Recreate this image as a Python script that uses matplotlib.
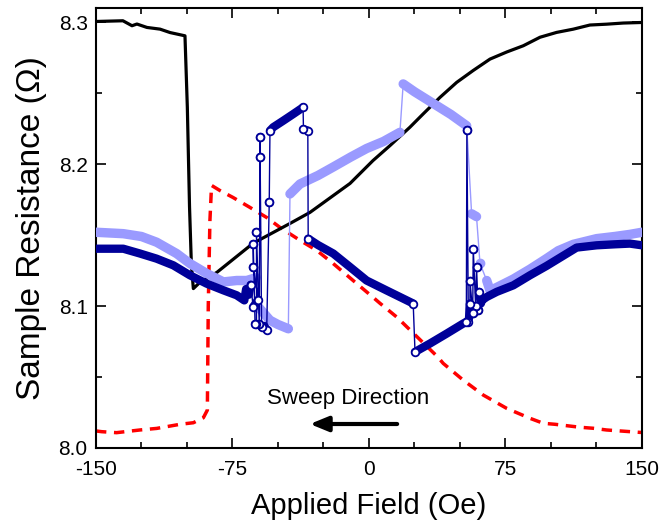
import matplotlib
matplotlib.use("Agg")
import matplotlib.pyplot as plt
import numpy as np
from matplotlib.ticker import MultipleLocator

plt.rcParams['font.family'] = ['Liberation Sans', 'DejaVu Sans']

# reference sweep (black solid)
black_x = [-150, -135.2, -130.2, -127.5, -122, -114.8, -109.3, -101.1, -99.8, -98.6, -97.6, -96.5,
           -92.9, -83.5, -63.7, -43.4, -32.4, -10.4, 2.2, 11.5, 22.5, 29.8, 39.0, 48.2, 57.3,
           66.5, 75.7, 84.8, 94.0, 103.1, 112.3, 121.4, 130.6, 139.7, 150]
black_y = [8.3005, 8.301, 8.2975, 8.2987, 8.2963, 8.2951, 8.2927, 8.2904, 8.24, 8.17, 8.13, 8.1123,
           8.1167, 8.1238, 8.1442, 8.1582, 8.166, 8.1864, 8.2025, 8.213, 8.226, 8.2354, 8.247,
           8.2576, 8.266, 8.274, 8.279, 8.2834, 8.2894, 8.2928, 8.2951, 8.298, 8.2986, 8.2994, 8.2998]

# red dashed
red_x = [-150, -146.9, -138.7, -125.8, -116.6, -103.8, -96.5, -91.0, -88.8, -88.3, -87.4, -86.5,
         -81.9, -74.7, -65.4, -56.2, -48.9, -37.9, -28.7, -19.8, -8.8, 2.2, 6.0, 15.4, 37.9,
         40.8, 51.8, 62.8, 75.7, 88.5, 95.8, 102.2, 116.0, 123.2, 130.5, 148.9, 150]
red_y = [8.012, 8.0115, 8.0108, 8.0127, 8.0138, 8.0167, 8.0178, 8.0213, 8.0267, 8.10, 8.16, 8.185,
         8.1814, 8.1765, 8.1695, 8.1624, 8.1554, 8.1463, 8.1392, 8.1301, 8.1181, 8.1062, 8.102,
         8.0921, 8.064, 8.0596, 8.0478, 8.0373, 8.0279, 8.0209, 8.0174, 8.0167, 8.0146, 8.0139,
         8.0127, 8.011, 8.011]

# light blue sweep (filled)
lb_x = [150, 143.4, 135, 125.1, 112.3, 104, 97.6, 88.5, 79.3, 70.0, 66.5, 64.7, 61.0, 59.1, 56.4,
        53.7, 45, 35, 25, 18.8, 17.0, 8, -1.3, -10, -19.6, -28, -37.9, -43.4, -44.3, -50,
        -54.4, -60.8, -62.0, -67.2, -72.7, -80, -89.2, -98.4, -105.7, -116.7, -125, -135, -150]
lb_y = [8.152, 8.1505, 8.149, 8.1475, 8.1435, 8.139, 8.1335, 8.126, 8.119, 8.113, 8.111, 8.118, 8.130,
        8.163, 8.165, 8.227, 8.235, 8.243, 8.251, 8.2565, 8.2224, 8.216, 8.211, 8.205, 8.198,
        8.192, 8.186, 8.179, 8.084, 8.087, 8.09, 8.0994, 8.12, 8.118, 8.118, 8.117, 8.123,
        8.130, 8.137, 8.145, 8.149, 8.151, 8.152]

# dark blue sweep (open circles)
db_x = [150, 143.4, 135, 125.1, 114.1, 106.8, 97.6, 88.5, 79.3, 70.2, 64.7, 62.0,
        61.5, 60.5, 60.0, 59.1, 58.6, 57.3, 57.0, 55.5, 55.5, 55.0, 54.6, 53.8,
        53.5, 51.8, 42.7, 33.5, 25.3,
        24.3, 17.0, 9.7, -1.3, -10.4, -19.6, -28.0, -33.4,
        -33.6, -36.0, -36.2, -41.6, -47.1, -52.6, -54.4,
        -54.8, -56.2, -57.5, -59.0, -59.9, -59.9, -60.3, -61.8, -61.8, -62.6, -63.6, -63.6,
        -60.8, -63.6, -65.0, -66.0, -67.5, -68.5,
        -72.7, -80, -89.2, -98.4, -107.5, -116.7, -125.8, -135, -150]
db_y = [8.1428, 8.144, 8.1435, 8.1428, 8.1412, 8.1355, 8.1283, 8.1217, 8.1146, 8.110, 8.1064, 8.104,
        8.1018, 8.110, 8.097, 8.1275, 8.100, 8.1404, 8.095, 8.118, 8.1018, 8.092, 8.089, 8.2243,
        8.0888, 8.0877, 8.0806, 8.0736, 8.0677,
        8.1018, 8.1064, 8.111, 8.118, 8.1275, 8.137, 8.143, 8.1475,
        8.2236, 8.2246, 8.240, 8.2353, 8.2306, 8.226, 8.2236,
        8.173, 8.083, 8.086, 8.0853, 8.2194, 8.205, 8.0877, 8.152, 8.0877, 8.0877, 8.144, 8.1275,
        8.1046, 8.0994, 8.115, 8.108, 8.112, 8.104,
        8.1076, 8.1111, 8.1158, 8.1217, 8.1287, 8.1334, 8.137, 8.1404, 8.1404]

light = '#9a9aff'
navy = '#000099'


def branches(x, y, jump=0.012):
    # split a sweep wherever the resistance jumps
    x, y = np.asarray(x), np.asarray(y)
    cut = np.where(np.abs(np.diff(y)) > jump)[0] + 1
    return list(zip(np.split(x, cut), np.split(y, cut)))


fig = plt.figure(figsize=(6.61, 5.26), dpi=100)
ax = fig.add_axes([0.1452, 0.1483, 0.826, 0.8365])

ax.plot(black_x, black_y, color='black', lw=2.3, zorder=3)
ax.plot(red_x, red_y, color='red', lw=2.5, ls=(0, (3, 2.2)), zorder=2)

# light blue: thin connecting line + thick band on continuous parts
ax.plot(lb_x, lb_y, color=light, lw=1, zorder=4)
for bx, by in branches(lb_x, lb_y):
    if len(bx) > 1:
        ax.plot(bx, by, color=light, lw=6.8, solid_capstyle='round', zorder=4)
    else:
        ax.plot(bx, by, 'o', color=light, ms=6, zorder=4)

# dark blue: thin line, thick band, open circles at jump ends
ax.plot(db_x, db_y, color=navy, lw=1, zorder=5)
ends_x, ends_y = [], []
for bx, by in branches(db_x, db_y):
    if len(bx) > 1:
        ax.plot(bx, by, color=navy, lw=6, solid_capstyle='round', zorder=5)
    ends_x += [bx[0], bx[-1]]
    ends_y += [by[0], by[-1]]
ax.plot(ends_x[1:-1], ends_y[1:-1], 'o', ms=5.5, mfc='white', mec=navy, mew=1.3, zorder=6)

ax.annotate('', xy=(-34, 8.0169), xytext=(17, 8.0169),
            arrowprops=dict(arrowstyle='-|>,head_length=1.1,head_width=0.45', color='black', lw=3))
ax.text(-11.5, 8.035, 'Sweep Direction', fontsize=16, ha='center', va='center')

ax.set_xlim(-150, 150)
ax.set_ylim(8.0, 8.31)
ax.set_xticks([-150, -75, 0, 75, 150])
ax.set_xticklabels(['-150', '-75', '0', '75', '150'])
ax.set_yticks([8.0, 8.1, 8.2, 8.3])
ax.xaxis.set_minor_locator(MultipleLocator(25))
ax.yaxis.set_minor_locator(MultipleLocator(0.05))
ax.tick_params(which='both', direction='in', top=True, right=True, labelsize=15, width=1.2)
ax.tick_params(which='major', length=7)
ax.tick_params(axis='x', which='major', pad=9)
ax.tick_params(axis='y', which='major', pad=6)
ax.tick_params(which='minor', length=4)
for s in ax.spines.values():
    s.set_linewidth(1.5)

ax.set_xlabel('Applied Field (Oe)', fontsize=21, labelpad=9)
ax.set_ylabel('Sample Resistance (Ω)', fontsize=24, labelpad=8)

fig.savefig('out.png', dpi=100)
